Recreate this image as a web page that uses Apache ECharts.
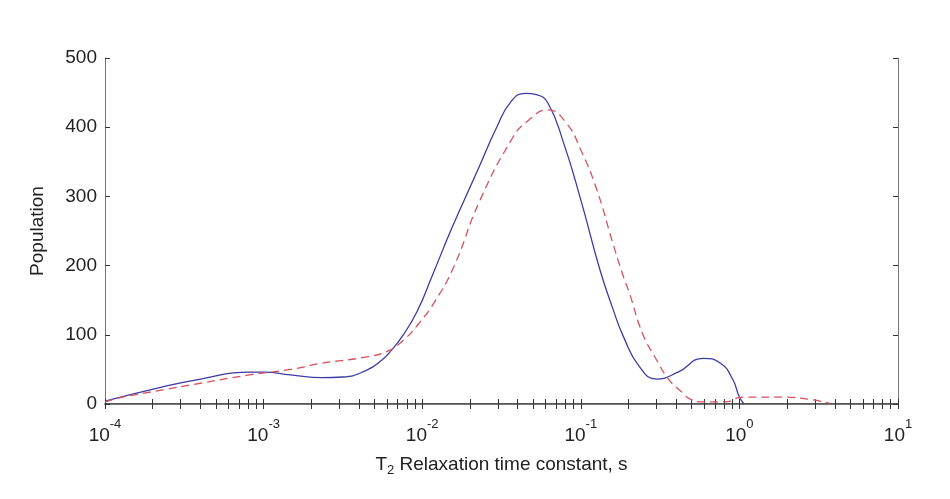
<!DOCTYPE html>
<html>
<head>
<meta charset="utf-8">
<script src="https://cdn.jsdelivr.net/npm/echarts@6/dist/echarts.min.js"></script>
<style>
  html, body { margin: 0; padding: 0; background: #fff; }
  #chart { width: 950px; height: 499px; }
</style>
</head>
<body>
<div id="chart"></div>
<script>
// T2 times (s) and populations
var blueT2 = [1e-4, 2.14e-4, 4.0e-4, 8.1e-4, 1.0e-3, 1.48e-3, 2.34e-3, 3.16e-3, 4.47e-3, 5.6e-3,
  6.3e-3, 7.6e-3, 9.3e-3, 1.15e-2, 1.55e-2, 2.24e-2, 2.95e-2, 3.63e-2, 4.47e-2, 5.25e-2,
  6.2e-2, 7.8e-2, 0.1, 0.132, 0.158, 0.186, 0.234, 0.30, 0.41, 0.59, 0.76, 0.91, 1.0, 1.07];
var bluePop = [4, 23, 36, 46, 46, 42, 38, 39, 49, 64,
  76, 100, 134, 184, 256, 338, 400, 437, 449, 447,
  435, 377, 295, 194, 140, 97, 54, 36, 46, 66, 59, 35, 10, 0];

var redT2 = [1e-4, 1.29e-4, 2.14e-4, 4.0e-4, 8.1e-4, 1.48e-3, 2.34e-3, 4.47e-3, 6.0e-3, 7.6e-3,
  9.5e-3, 1.2e-2, 1.58e-2, 2.29e-2, 3.7e-2, 4.57e-2, 6.2e-2, 8.1e-2, 0.1, 0.126,
  0.158, 0.182, 0.204, 0.245, 0.30, 0.36, 0.44, 0.49, 0.60, 0.81, 1.05, 1.86, 2.9, 3.7];
var redPop = [3, 10, 19, 30, 42, 50, 59, 68, 76, 92,
  116, 148, 198, 292, 384, 408, 425, 406, 367, 310,
  235, 190, 158, 102, 64, 35, 16, 7, 3, 3, 10, 10, 6, 1];

var decades = [1e-4, 1e-3, 1e-2, 1e-1, 1, 10];
var yTicks = [0, 100, 200, 300, 400, 500];

// minor ticks 2..9 in every decade
var xTicks = [];
for (var d = 0; d < decades.length; d++) {
  var limit = d === decades.length - 1 ? 1 : 9;
  for (var k = 1; k <= limit; k++) xTicks.push(decades[d] * k);
}

function zip(xs, ys) {
  return xs.map(function (x, i) { return [x, ys[i]]; });
}

var fontFamily = 'Liberation Sans, Arial, sans-serif';

var option = {
  backgroundColor: '#fff',
  animation: false,
  grid: { left: 105, right: 52, top: 58, bottom: 95 },
  xAxis: [
    {
      type: 'log',
      logBase: 10,
      min: 1e-4,
      max: 10,
      position: 'bottom',
      name: 'T{sub|2} Relaxation time constant, s',
      nameLocation: 'middle',
      nameGap: 48,
      nameTextStyle: {
        color: '#222', fontSize: 19, fontFamily: fontFamily,
        rich: { sub: { fontSize: 13, padding: [12, 0, 0, 0], color: '#222' } }
      },
      axisLine: { lineStyle: { color: '#222', width: 1.5 } },
      axisTick: { inside: true, length: 5, customValues: xTicks, lineStyle: { color: '#333' } },
      splitLine: { show: false },
      axisLabel: {
        customValues: decades,
        margin: 14,
        color: '#222',
        formatter: function (v) {
          var e = Math.round(Math.log10(v));
          return '{b|10}{s|' + e + '}';
        },
        rich: {
          b: { fontSize: 19, fontFamily: fontFamily, color: '#222' },
          s: { fontSize: 13, fontFamily: fontFamily, color: '#222', padding: [0, 0, 22, 0] }
        }
      }
    },
    {
      type: 'log',
      logBase: 10,
      min: 1e-4,
      max: 10,
      position: 'top',
      axisLine: { lineStyle: { color: '#777', width: 1 } },
      axisTick: { inside: true, length: 5, customValues: xTicks, lineStyle: { color: '#333' } },
      axisLabel: { show: false },
      splitLine: { show: false }
    }
  ],
  yAxis: [
    {
      type: 'value',
      min: 0,
      max: 500,
      interval: 100,
      position: 'left',
      name: 'Population',
      nameLocation: 'middle',
      nameGap: 58,
      nameTextStyle: { color: '#222', fontSize: 19, fontFamily: fontFamily },
      axisLine: { show: true, lineStyle: { color: '#777', width: 1 } },
      axisTick: { inside: true, length: 5, lineStyle: { color: '#333' } },
      splitLine: { show: false },
      axisLabel: {
        customValues: yTicks,
        margin: 8, color: '#222', fontSize: 19, fontFamily: fontFamily
      }
    },
    {
      type: 'value',
      min: 0,
      max: 500,
      interval: 100,
      position: 'right',
      axisLine: { show: true, lineStyle: { color: '#777', width: 1 } },
      axisTick: { inside: true, length: 5, lineStyle: { color: '#333' } },
      axisLabel: { show: false },
      splitLine: { show: false }
    }
  ],
  series: [
    {
      name: 'solid',
      type: 'line',
      data: zip(blueT2, bluePop),
      smooth: 0.5,
      showSymbol: false,
      clip: true,
      lineStyle: { color: '#3b3ba6', width: 1.3 }
    },
    {
      name: 'dashed',
      type: 'line',
      data: zip(redT2, redPop),
      smooth: 0.5,
      showSymbol: false,
      clip: true,
      lineStyle: { color: '#d8505c', width: 1.3, type: [8, 5] }
    }
  ]
};

var myChart = echarts.init(document.getElementById('chart'));
myChart.setOption(option);
window.addEventListener('resize', function () {
  myChart.resize();
});
</script>
</body>
</html>
